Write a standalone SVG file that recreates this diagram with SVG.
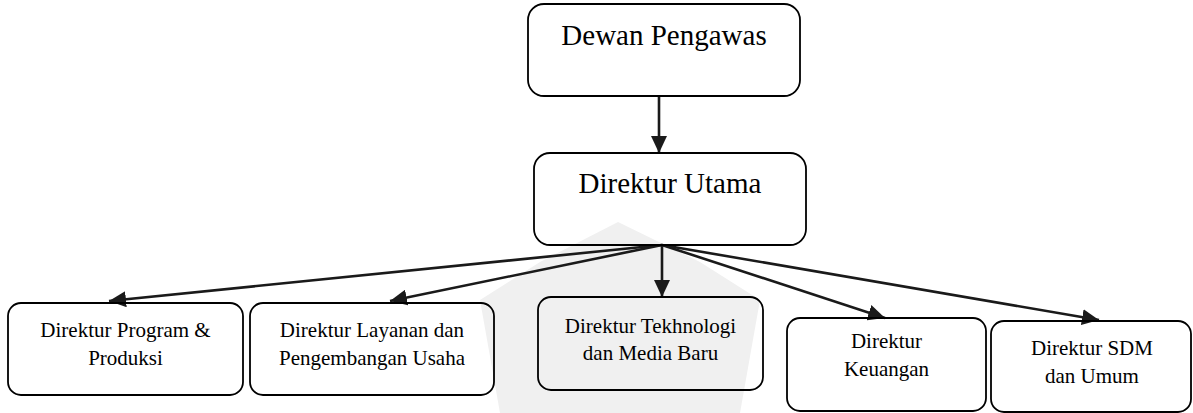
<svg xmlns="http://www.w3.org/2000/svg" width="1193" height="413" viewBox="0 0 1193 413">
  <defs>
    <style>
      .box { fill: none; stroke: #000; stroke-width: 1.8; }
      .lbl { font-family: "Liberation Serif", "Times New Roman", serif; fill: #000; text-anchor: middle; }
      .big { font-size: 29px; }
      .small { font-size: 21px; }
      .conn { stroke: #1a1a1a; stroke-width: 2.6; fill: none; marker-end: url(#arrow); }
      .wm { fill: #f0f0f0; }
    </style>
    <marker id="arrow" markerUnits="userSpaceOnUse" markerWidth="18" markerHeight="16" refX="17" refY="8" orient="auto">
      <path d="M0,0 L17,8 L0,16 Z" fill="#1a1a1a"/>
    </marker>
  </defs>
  <rect width="1193" height="413" fill="#fff"/>

  <g id="watermark">
    <path class="wm" d="M618,222 L700,262 L760,300 L740,413 L500,413 L480,300 L540,262 Z"/>
  </g>

  <g id="connectors">
    <line class="conn" x1="659" y1="96" x2="659" y2="153"/>
    <line class="conn" x1="662" y1="245" x2="109" y2="301"/>
    <line class="conn" x1="662" y1="245" x2="390" y2="301"/>
    <line class="conn" x1="662" y1="245" x2="662" y2="297"/>
    <line class="conn" x1="662" y1="245" x2="885" y2="318"/>
    <line class="conn" x1="662" y1="245" x2="1099" y2="320"/>
  </g>

  <g id="dewan-pengawas">
    <rect class="box" x="528" y="4" width="272" height="92" rx="16"/>
    <text class="lbl big" x="664" y="45">Dewan Pengawas</text>
  </g>

  <g id="direktur-utama">
    <rect class="box" x="534" y="153" width="272" height="92" rx="16"/>
    <text class="lbl big" x="670" y="193">Direktur Utama</text>
  </g>

  <g id="direktur-program">
    <rect class="box" x="8" y="303" width="235" height="92" rx="13"/>
    <text class="lbl small" x="125.5" y="337">Direktur Program &amp;</text>
    <text class="lbl small" x="125.5" y="365">Produksi</text>
  </g>

  <g id="direktur-layanan">
    <rect class="box" x="250" y="303" width="244" height="92" rx="13"/>
    <text class="lbl small" x="372" y="337">Direktur Layanan dan</text>
    <text class="lbl small" x="372" y="365">Pengembangan Usaha</text>
  </g>

  <g id="direktur-tekhnologi">
    <rect class="box" x="538" y="297" width="225" height="93" rx="13"/>
    <text class="lbl small" x="650.5" y="333">Direktur Tekhnologi</text>
    <text class="lbl small" x="650.5" y="360">dan Media Baru</text>
  </g>

  <g id="direktur-keuangan">
    <rect class="box" x="787" y="318" width="199" height="93" rx="13"/>
    <text class="lbl small" x="886.5" y="348">Direktur</text>
    <text class="lbl small" x="886.5" y="376">Keuangan</text>
  </g>

  <g id="direktur-sdm">
    <rect class="box" x="991" y="321" width="200" height="91" rx="13"/>
    <text class="lbl small" x="1092" y="355">Direktur SDM</text>
    <text class="lbl small" x="1092" y="383">dan Umum</text>
  </g>
</svg>
